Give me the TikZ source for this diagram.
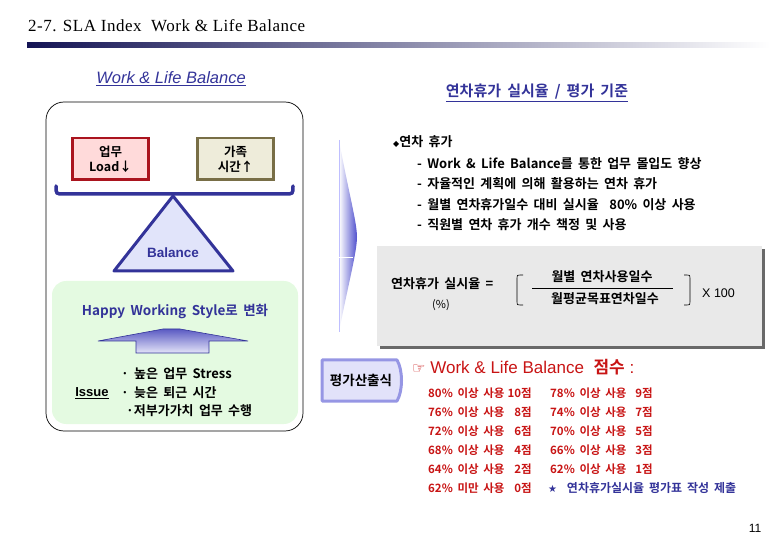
\documentclass[tikz,border=0pt]{standalone}
\usepackage{fontspec}
\setmainfont{Liberation Sans}
\newfontfamily\kr[BoldFont={Noto Sans CJK KR Bold},WordSpace=1.8]{Noto Sans CJK KR}
\newfontfamily\titlefont[LetterSpace=3]{Liberation Serif}
\newfontfamily\symfont{DejaVu Sans}
\definecolor{navyc}{RGB}{51, 51, 153}
\definecolor{barnavy}{RGB}{20, 20, 85}
\definecolor{redline}{RGB}{170, 20, 30}
\definecolor{redfill}{RGB}{255, 218, 218}
\definecolor{oliveline}{RGB}{120, 110, 70}
\definecolor{olivefill}{RGB}{238, 236, 218}
\definecolor{greenbg}{RGB}{228, 250, 225}
\definecolor{trifill}{RGB}{225, 228, 250}
\definecolor{arrtop}{RGB}{90, 90, 195}
\definecolor{arrbot}{RGB}{228, 228, 248}
\definecolor{wedgeblue}{RGB}{80, 80, 205}
\definecolor{grayfill}{RGB}{233, 233, 233}
\definecolor{shadowc}{RGB}{105, 105, 105}
\definecolor{tabfill}{RGB}{226, 226, 250}
\definecolor{tabline}{RGB}{150, 150, 228}
\definecolor{scorered}{RGB}{200, 20, 20}
\usetikzlibrary{positioning, calc}

\begin{document}
\begin{tikzpicture}[x=1pt, y=-1pt,
  kbold/.style={font=\kr\bfseries\fontsize{#1}{#1}\selectfont, inner sep=0pt},
  kbold/.default=12,
  loadbox/.style={draw=#1line, fill=#1fill, line width=2.5pt, minimum width=76pt, minimum height=41.5pt, align=center, font=\kr\bfseries\fontsize{12.5}{15}\selectfont},
  score/.style={kbold=11.5, text=scorered}]
  \useasboundingbox (0,0) rectangle (780,540);

  % Title and bar
  \node[anchor=west, inner sep=0pt, font=\titlefont\fontsize{17}{19}\selectfont] (title) at (28,26) {2-7. SLA Index\ \ Work \& Life Balance};
  \shade[left color=barnavy, right color=white] (27,43) rectangle (770,48);

  % Left panel
  \node[inner sep=0pt, text=navyc, font=\itshape\fontsize{16.5}{18}\selectfont] (wlb) at (171,79) {\underline{Work \& Life Balance}};
  \draw[rounded corners=18pt, line width=0.7pt] (46,102) rectangle (303,431);

  \node[loadbox=red] (work) at (110.5,159) {업무\\Load↓};
  \node[loadbox=olive] (family) at (235.5,159) {가족\\시간↑};

  \draw[navyc, line width=3.5pt, line cap=round] (56,186) .. controls (56,194) .. (64,194) -- (285,194) .. controls (293,194) .. (293,186);
  \draw[navyc, line width=3pt, line join=round, fill=trifill] (173,196) -- (233,271) -- (114,271) -- cycle;
  \node[inner sep=0pt, text=navyc, font=\bfseries\fontsize{13.5}{15}\selectfont] (balance) at (173,253) {Balance};

  \fill[greenbg, rounded corners=14pt] (52,281) rectangle (298,424);
  \node[kbold=13.5, text=navyc] (happy) at (175,311) {Happy Working Style로 변화};
  \shadedraw[top color=arrtop, bottom color=arrbot, draw=navyc, line width=0.6pt]
    (98,341) -- (163,329) -- (180,329) -- (248,341) -- (209,341) -- (209,353) -- (136,353) -- (136,341) -- cycle;

  \node[inner sep=0pt, font=\bfseries\fontsize{13}{14}\selectfont] (issue) at (92,393) {\underline{Issue}};
  \node[kbold=13, anchor=west] (iss1) at (121,374) {· 높은 업무 Stress};
  \node[kbold=13, anchor=west] (iss2) at (121,393) {· 늦은 퇴근 시간};
  \node[kbold=13, anchor=west] (iss3) at (126,411) {·저부가가치 업무 수행};

  % Wedge
  \shade[left color=white, right color=wedgeblue]
    (339,140) .. controls (348,190) and (357,222) .. (357,237) .. controls (357,252) and (348,285) .. (339,332) -- cycle;
  \draw[blue!25, line width=0.5pt] (339,140) -- (339,332);
  \draw[white, line width=0.8pt] (339,257) -- (353,257);

  % Right panel
  \node[kbold=15, text=navyc] (criteria) at (537,93) {\underline{연차휴가 실시율 / 평가 기준}};
  \node[kbold=13, anchor=west] (leave) at (393,142) {{\symfont\fontsize{8}{8}\selectfont ◆}연차 휴가};
  \foreach \txt [count=\i] in {- Work \& Life Balance를 통한 업무 몰입도 향상,
                               - 자율적인 계획에 의해 활용하는 연차 휴가,
                               - 월별 연차휴가일수 대비 실시율\ \ 80\% 이상 사용,
                               - 직원별 연차 휴가 개수 책정 및 사용}
    \node[kbold=13, anchor=west] (line\i) at (417,143+20.5*\i) {\txt};

  % Formula box
  \fill[shadowc] (380,249) rectangle (765,349);
  \fill[grayfill] (377,246) rectangle (762,346);
  \node[kbold=13, anchor=west] (rate) at (391,284) {연차휴가 실시율 =};
  \node[inner sep=0pt, font=\kr\fontsize{11}{11}\selectfont] (pct) at (441,305) {(\%)};
  \node[kbold=13] (num) at (602,277) {월별 연차사용일수};
  \node[kbold=13] (den) at (605,299) {월평균목표연차일수};
  \draw[line width=0.7pt] (532,288) -- (673,288);
  \draw[line width=0.6pt] (523,275) -- (520,275) .. controls (517,275) .. (517,278) -- (517,302) .. controls (517,305) .. (520,305) -- (523,305);
  \draw[line width=0.6pt] (684,275) -- (687,275) .. controls (690,275) .. (690,278) -- (690,302) .. controls (690,305) .. (687,305) -- (684,305);
  \node[inner sep=0pt, anchor=west, font=\fontsize{12.5}{14}\selectfont] (times) at (702,293) {X 100};

  % Evaluation
  \draw[tabline, line width=3pt, line join=round, fill=tabfill]
    (322,360) -- (397,360) .. controls (403,370) and (403,391) .. (397,401) -- (322,401) -- cycle;
  \node[kbold=13.5] (calc) at (361,380) {평가산출식};
  \node[inner sep=0pt, anchor=west, text=scorered, font=\fontsize{17}{19}\selectfont] (points) at (412,367)
    {{\symfont\fontsize{15}{15}\selectfont ☞} Work \& Life Balance\ \ {\kr\bfseries 점수} :};

  \foreach \p/\pts/\y [count=\i] in {80/10/393, 76/8/412, 72/6/431, 68/4/450, 64/2/469}
  {
    \node[score, anchor=west] (pa\i) at (428,\y) {\p\% 이상 사용};
    \node[score, anchor=east] (sa\i) at (532,\y) {\pts{}점};
  }
  \foreach \p/\pts/\y [count=\i] in {78/9/393, 74/7/412, 70/5/431, 66/3/450, 62/1/469}
  {
    \node[score, anchor=west] (pb\i) at (550,\y) {\p\% 이상 사용};
    \node[score, anchor=east] (sb\i) at (653,\y) {\pts{}점};
  }
  \node[score, anchor=west] (pa6) at (428,488) {62\% 미만 사용};
  \node[score, anchor=east] (sa6) at (532,488) {0점};
  \node[kbold=12, anchor=west, text=navyc] (submit) at (548,488) {{\symfont\fontsize{10}{10}\selectfont ★}\ \ 연차휴가실시율 평가표 작성 제출};

  \node[inner sep=0pt, font=\fontsize{12}{14}\selectfont] (page) at (755,528) {11};
\end{tikzpicture}
\end{document}
